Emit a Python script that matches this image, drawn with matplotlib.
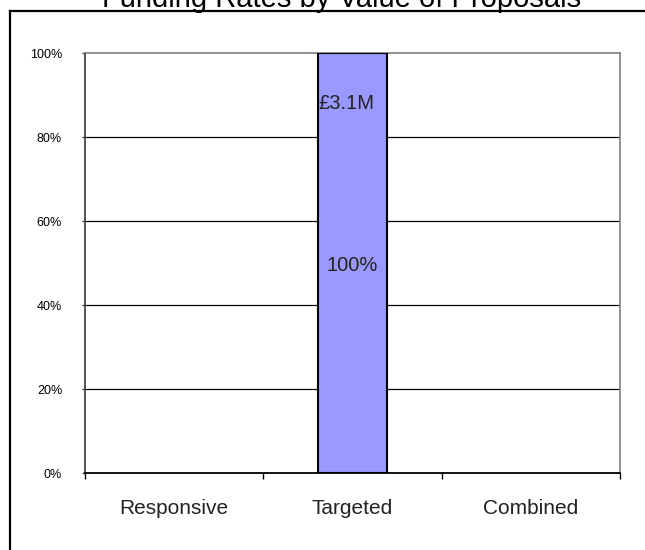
import matplotlib
matplotlib.use('Agg')
import matplotlib.pyplot as plt
from matplotlib.lines import Line2D
import numpy as np

plt.rcParams['font.family'] = ['Liberation Sans', 'DejaVu Sans']

# data
categories = ['Responsive', 'Targeted', 'Combined']
rates = [0, 100, 0]            # % funded by value
amounts = ['', '£3.1M', '']    # value funded
rate_labels = ['', '100%', '']
yticks = [0, 20, 40, 60, 80, 100]

W, H = 645, 550
fig = plt.figure(figsize=(W/100, H/100), dpi=100)

# outer chart frame (clipped at right and bottom like the original)
fig.add_artist(Line2D([10/W, 1.0], [1-11/H, 1-11/H], color='black', lw=1.6, transform=fig.transFigure))
fig.add_artist(Line2D([10/W, 10/W], [0.0, 1-11/H], color='black', lw=1.6, transform=fig.transFigure))

fig.text(342/W, 1-7/H, 'Funding Rates by Value of Proposals', ha='center', va='baseline', fontsize=21, color='black')

ax = fig.add_axes([85/W, 1-473/H, (620-85)/W, (473-53)/H])
x = np.arange(len(categories))
r = np.array(rates, dtype=float)
has_bar = r > 0

for yv in yticks[1:-1]:
    ax.axhline(yv, color='black', lw=0.9, zorder=1)

ax.bar(x[has_bar], r[has_bar], width=0.39, color='#9999ff', edgecolor='black', linewidth=1.5, zorder=3)

for i in range(len(categories)):
    if amounts[i]:
        ax.text(x[i]-0.035, 88, amounts[i], ha='center', va='center', fontsize=14.5, color='#222222', zorder=4)
    if rate_labels[i]:
        ax.text(x[i], 49.5, rate_labels[i], ha='center', va='center', fontsize=14.5, color='#222222', zorder=4)

ax.set_xlim(-0.5, 2.5)
ax.set_ylim(0, 100)

ax.set_yticks(yticks)
ax.set_yticklabels(['%d%%' % v for v in yticks], fontsize=9)
ax.tick_params(axis='y', direction='out', length=2.5, width=1, pad=14, color='#444444')

ax.set_xticks(x)
ax.set_xticklabels(categories, fontsize=15, color='#222222')
ax.set_xticks([-0.5, 0.5, 1.5, 2.5], minor=True)
ax.tick_params(axis='x', which='major', length=0, pad=19)
ax.tick_params(axis='x', which='minor', direction='out', length=4.5, width=1, color='black')

ax.spines['left'].set_color('#444444')
ax.spines['left'].set_linewidth(1.3)
ax.spines['bottom'].set_color('black')
ax.spines['bottom'].set_linewidth(1.3)
ax.spines['top'].set_color('#888888')
ax.spines['top'].set_linewidth(1.3)
ax.spines['right'].set_color('#888888')
ax.spines['right'].set_linewidth(1.3)

fig.savefig('out.png', dpi=100)
